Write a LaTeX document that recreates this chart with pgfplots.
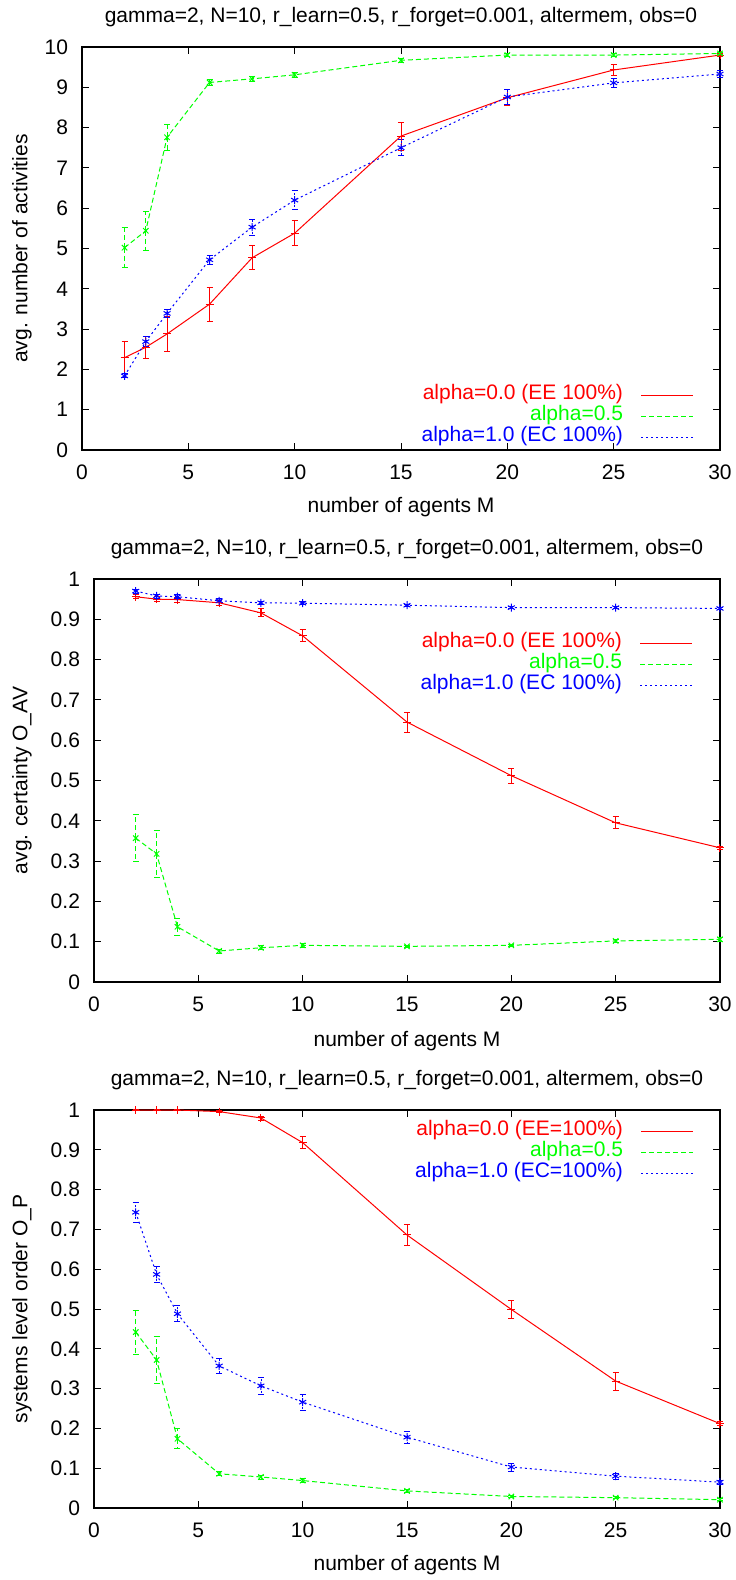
\documentclass[border=0pt]{standalone}
\usepackage{fontspec}
\setmainfont{Liberation Sans}
\usepackage{pgfplots}
\usepackage{pgfplotstable}
\pgfplotsset{compat=1.18}

\pgfplotstableread{
x y e
2 2.29 0.40
3 2.55 0.27
4 2.88 0.44
6 3.62 0.42
8 4.77 0.30
10 5.38 0.31
15 7.79 0.35
20 8.74 0.20
25 9.43 0.14
30 9.80 0.03
}\Ared
\pgfplotstableread{
x y e
2 5.02 0.50
3 5.44 0.49
4 7.76 0.33
6 9.12 0.08
8 9.21 0.07
10 9.31 0.07
15 9.67 0.04
20 9.80 0.03
25 9.80 0.03
30 9.84 0.03
}\Agreen
\pgfplotstableread{
x y e
2 1.84 0.05
3 2.69 0.13
4 3.39 0.10
6 4.72 0.12
8 5.53 0.20
10 6.20 0.23
15 7.50 0.20
20 8.76 0.18
25 9.11 0.12
30 9.33 0.08
}\Ablue

\pgfplotstableread{
x y e
2 0.956 0.005
3 0.950 0.006
4 0.949 0.006
6 0.941 0.007
8 0.916 0.010
10 0.859 0.015
15 0.645 0.025
20 0.512 0.018
25 0.395 0.015
30 0.333 0.003
}\Bred
\pgfplotstableread{
x y e
2 0.357 0.058
3 0.318 0.058
4 0.137 0.022
6 0.077 0.005
8 0.085 0.005
10 0.091 0.005
15 0.0885 0.003
20 0.091 0.003
25 0.102 0.003
30 0.106 0.004
}\Bgreen
\pgfplotstableread{
x y e
2 0.970 0.005
3 0.958 0.005
4 0.956 0.005
6 0.946 0.005
8 0.941 0.004
10 0.940 0.004
15 0.935 0.003
20 0.929 0.003
25 0.929 0.003
30 0.927 0.003
}\Bblue

\pgfplotstableread{
x y e
2 1.0 0.001
3 1.0 0.001
4 1.0 0.001
6 0.996 0.003
8 0.980 0.005
10 0.918 0.015
15 0.686 0.027
20 0.499 0.023
25 0.319 0.023
30 0.212 0.005
}\Cred
\pgfplotstableread{
x y e
2 0.442 0.055
3 0.372 0.060
4 0.174 0.025
6 0.086 0.005
8 0.078 0.005
10 0.069 0.005
15 0.043 0.004
20 0.029 0.003
25 0.026 0.003
30 0.021 0.003
}\Cgreen
\pgfplotstableread{
x y e
2 0.743 0.025
3 0.587 0.020
4 0.488 0.020
6 0.357 0.018
8 0.307 0.022
10 0.266 0.020
15 0.178 0.015
20 0.103 0.010
25 0.080 0.007
30 0.065 0.005
}\Cblue

\pgfplotsset{
  gp/.style={
    scale only axis, clip=false,
    xmin=0, xmax=30, xtick={0,5,10,15,20,25,30},
    tick align=inside, tick pos=both, major tick length=3.5pt,
    axis line style={line width=0.6pt},
    every tick/.style={black, line width=0.5pt},
    /pgf/number format/assume math mode=true,
    font=\fontsize{10.5}{12.6}\selectfont,
    xticklabel style={yshift=-4pt},
    yticklabel style={xshift=-3.5pt},
    title style={at={(0.5,1)}, anchor=center, yshift=9pt},
    xlabel style={at={(0.5,0)}, anchor=center, yshift=-28.5pt},
    legend plot pos=right,
    legend cell align=right,
    legend image code/.code={\draw[##1] (0pt,0pt) -- (26pt,0pt);},
  },
  legbase/.style={draw=none, fill=none, inner sep=0pt, outer sep=0pt,
    column sep=9pt, row sep=0pt,
    nodes={inner sep=0pt, text height=7.5pt, text depth=3pt}},
  redS/.style={red, line width=0.5pt, mark=+, mark size=2pt, mark options={solid}},
  greenS/.style={green, line width=0.5pt, dash pattern=on 2.5pt off 1.5pt, mark=x, mark size=1.9pt, mark options={solid}},
  blueS/.style={blue, line width=0.5pt, dash pattern=on 1pt off 1.5pt, mark=asterisk, mark size=2pt, mark options={solid}},
  eb/.style={error bars/.cd, y dir=both, y explicit, error mark options={rotate=90, mark size=1.5pt}},
}

\begin{document}
\begin{tikzpicture}
\path[use as bounding box] (0pt,0pt) rectangle (367.5pt,-790pt);

% ---- plot 1
\begin{axis}[gp, at={(41pt,-23.5pt)}, anchor=north west,
  width=319pt, height=201.5pt,
  ymin=0, ymax=10, ytick={0,1,2,3,4,5,6,7,8,9,10},
  title={gamma=2, N=10, r\_learn=0.5, r\_forget=0.001, altermem, obs=0},
  xlabel={number of agents M},
  ylabel={avg. number of activities},
  ylabel style={at={(axis description cs:-0.094,0.5)}, anchor=center},
  legend style={legbase, at={(1,0)}, anchor=south east, xshift=-13pt, yshift=1.25pt},
]
\addplot[redS, eb] table[x=x, y=y, y error=e] {\Ared};
\addlegendentry{\textcolor{red}{alpha=0.0 (EE 100\%)}}
\addplot[greenS, eb] table[x=x, y=y, y error=e] {\Agreen};
\addlegendentry{\textcolor{green}{alpha=0.5}}
\addplot[blueS, eb] table[x=x, y=y, y error=e] {\Ablue};
\addlegendentry{\textcolor{blue}{alpha=1.0 (EC 100\%)}}
\end{axis}

% ---- plot 2
\begin{axis}[gp, at={(47pt,-289.5pt)}, anchor=north west,
  width=313pt, height=201.5pt,
  ymin=0, ymax=1, ytick={0,0.1,0.2,0.3,0.4,0.5,0.6,0.7,0.8,0.9,1},
  title={gamma=2, N=10, r\_learn=0.5, r\_forget=0.001, altermem, obs=0},
  xlabel={number of agents M},
  xlabel style={yshift=-1pt},
  ylabel={avg. certainty O\_AV},
  ylabel style={at={(axis description cs:-0.115,0.5)}, anchor=center},
  legend style={legbase, at={(1,1)}, anchor=north east, xshift=-13.5pt, yshift=-26.75pt},
]
\addplot[redS, eb] table[x=x, y=y, y error=e] {\Bred};
\addlegendentry{\textcolor{red}{alpha=0.0 (EE 100\%)}}
\addplot[greenS, eb] table[x=x, y=y, y error=e] {\Bgreen};
\addlegendentry{\textcolor{green}{alpha=0.5}}
\addplot[blueS, eb] table[x=x, y=y, y error=e] {\Bblue};
\addlegendentry{\textcolor{blue}{alpha=1.0 (EC 100\%)}}
\end{axis}

% ---- plot 3
\begin{axis}[gp, at={(47pt,-555pt)}, anchor=north west,
  width=313pt, height=199pt,
  ymin=0, ymax=1, ytick={0,0.1,0.2,0.3,0.4,0.5,0.6,0.7,0.8,0.9,1},
  title={gamma=2, N=10, r\_learn=0.5, r\_forget=0.001, altermem, obs=0},
  xlabel={number of agents M},
  ylabel={systems level order O\_P},
  ylabel style={at={(axis description cs:-0.115,0.5)}, anchor=center},
  legend style={legbase, at={(1,1)}, anchor=north east, xshift=-13pt, yshift=-5.25pt},
]
\addplot[redS, eb] table[x=x, y=y, y error=e] {\Cred};
\addlegendentry{\textcolor{red}{alpha=0.0 (EE=100\%)}}
\addplot[greenS, eb] table[x=x, y=y, y error=e] {\Cgreen};
\addlegendentry{\textcolor{green}{alpha=0.5}}
\addplot[blueS, eb] table[x=x, y=y, y error=e] {\Cblue};
\addlegendentry{\textcolor{blue}{alpha=1.0 (EC=100\%)}}
\end{axis}
\end{tikzpicture}
\end{document}
